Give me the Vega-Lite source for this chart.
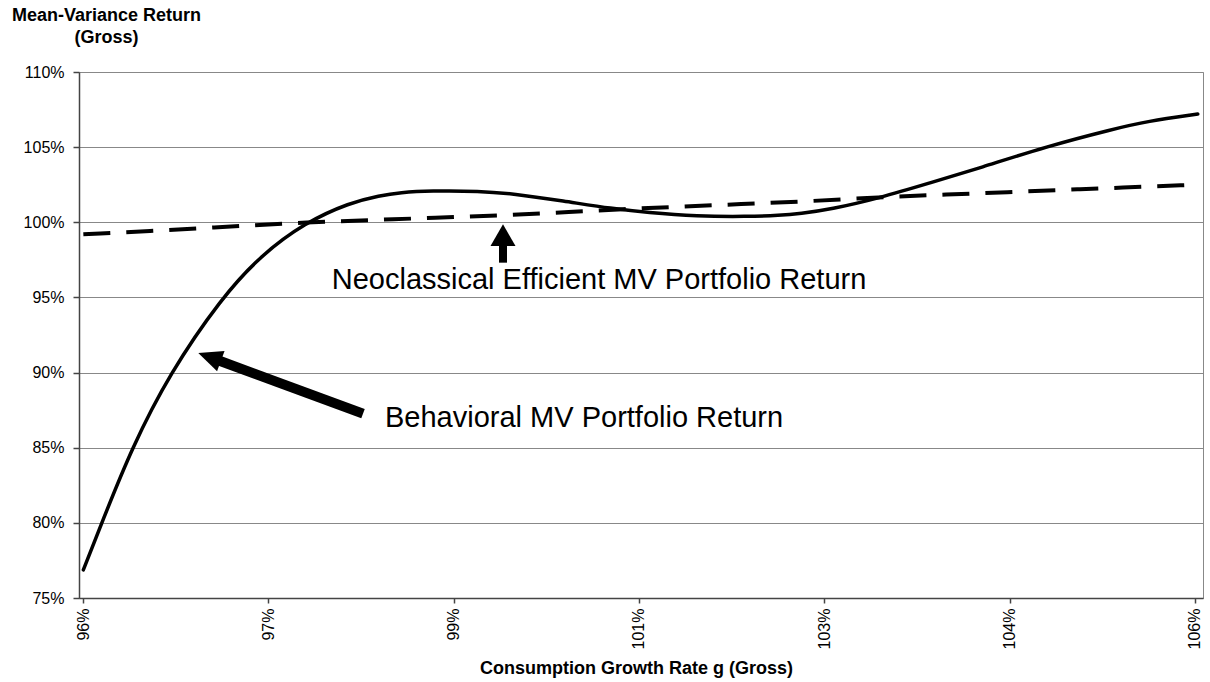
{
  "$schema": "https://vega.github.io/schema/vega-lite/v6.json",
  "width": 1124,
  "height": 526,
  "autosize": {"type": "none"},
  "padding": {"left": 79, "top": 72, "right": 7, "bottom": 84},
  "background": "white",
  "config": {
    "font": "Liberation Sans",
    "view": {"stroke": "#888888", "strokeWidth": 1},
    "axis": {
      "domainColor": "#444444",
      "domainWidth": 1.5,
      "tickColor": "#444444",
      "tickWidth": 1.5,
      "labelColor": "black",
      "titleColor": "black",
      "labelFont": "Liberation Sans",
      "titleFont": "Liberation Sans",
      "labelFontSize": 16,
      "titleFontSize": 18,
      "titleFontWeight": "bold"
    }
  },
  "layer": [
    {
      "data": {"values": [
        {"g": 0.96003, "r": 0.7687},
        {"g": 0.96168, "r": 0.7998},
        {"g": 0.96438, "r": 0.8498},
        {"g": 0.96782, "r": 0.8998},
        {"g": 0.97247, "r": 0.9498},
        {"g": 0.97592, "r": 0.9775},
        {"g": 0.97996, "r": 0.9998},
        {"g": 0.98401, "r": 1.0131},
        {"g": 0.98671, "r": 1.0178},
        {"g": 0.98851, "r": 1.0198},
        {"g": 0.99121, "r": 1.021},
        {"g": 0.9957, "r": 1.0208},
        {"g": 0.99867, "r": 1.019},
        {"g": 1.00317, "r": 1.0142},
        {"g": 1.00766, "r": 1.009},
        {"g": 1.01072, "r": 1.0065},
        {"g": 1.01522, "r": 1.004},
        {"g": 1.01971, "r": 1.0038},
        {"g": 1.02268, "r": 1.0046},
        {"g": 1.02448, "r": 1.0058},
        {"g": 1.02718, "r": 1.0085},
        {"g": 1.03167, "r": 1.0162},
        {"g": 1.03617, "r": 1.0262},
        {"g": 1.04067, "r": 1.0362},
        {"g": 1.04666, "r": 1.0505},
        {"g": 1.05263, "r": 1.062},
        {"g": 1.05568, "r": 1.0672},
        {"g": 1.06025, "r": 1.072}
      ]},
      "mark": {"type": "line", "color": "black", "strokeWidth": 3.5, "interpolate": "basis", "strokeCap": "round"},
      "encoding": {
        "x": {
          "field": "g", "type": "quantitative",
          "scale": {"domain": [0.95964, 1.06072], "nice": false, "zero": false},
          "axis": {
            "title": "Consumption Growth Rate g (Gross)",
            "values": [0.96, 0.976667, 0.993333, 1.01, 1.026667, 1.043333, 1.06],
            "labelExpr": "datum.value < 0.97 ? '96%' : datum.value < 0.985 ? '97%' : datum.value < 1.0 ? '99%' : datum.value < 1.02 ? '101%' : datum.value < 1.035 ? '103%' : datum.value < 1.05 ? '104%' : '106%'",
            "labelAngle": 270,
            "labelPadding": 5,
            "tickSize": 5,
            "grid": false,
            "titleX": 557,
            "titleY": 75,
            "titleBaseline": "alphabetic"
          }
        },
        "y": {
          "field": "r", "type": "quantitative",
          "scale": {"domain": [0.75, 1.1], "nice": false, "zero": false},
          "axis": {
            "title": ["Mean-Variance Return", "(Gross)"],
            "values": [0.75, 0.8, 0.85, 0.9, 0.95, 1.0, 1.05, 1.1],
            "format": ".0%",
            "grid": true,
            "gridColor": "#888888",
            "gridWidth": 1,
            "tickSize": 6,
            "labelPadding": 9,
            "titleAngle": 0,
            "titleAlign": "center",
            "titleBaseline": "top",
            "titleX": 27,
            "titleY": -66,
            "titleLineHeight": 22
          }
        }
      }
    },
    {
      "data": {"values": [
        {"g": 0.96003, "r": 0.992},
        {"g": 0.96603, "r": 0.9942},
        {"g": 0.98012, "r": 0.9998},
        {"g": 0.98788, "r": 1.002},
        {"g": 0.99777, "r": 1.0047},
        {"g": 1.00856, "r": 1.0087},
        {"g": 1.01665, "r": 1.0113},
        {"g": 1.02448, "r": 1.0138},
        {"g": 1.03257, "r": 1.0169},
        {"g": 1.04067, "r": 1.0193},
        {"g": 1.04966, "r": 1.022},
        {"g": 1.05982, "r": 1.0249}
      ]},
      "mark": {"type": "line", "color": "black", "strokeWidth": 4, "strokeDash": [27, 16], "interpolate": "monotone"},
      "encoding": {
        "x": {"field": "g", "type": "quantitative"},
        "y": {"field": "r", "type": "quantitative"}
      }
    },
    {
      "data": {"values": [
        {"g": 0.99777, "r": 0.97313, "g2": 0.99777, "r2": 0.98867}
      ]},
      "mark": {"type": "rule", "color": "black", "strokeWidth": 8, "strokeCap": "butt"},
      "encoding": {
        "x": {"field": "g", "type": "quantitative"},
        "y": {"field": "r", "type": "quantitative"},
        "x2": {"field": "g2"},
        "y2": {"field": "r2"}
      }
    },
    {
      "data": {"values": [
        {"g": 0.98518, "r": 0.87267, "g2": 0.9716, "r2": 0.90967}
      ]},
      "mark": {"type": "rule", "color": "black", "strokeWidth": 10, "strokeCap": "butt"},
      "encoding": {
        "x": {"field": "g", "type": "quantitative"},
        "y": {"field": "r", "type": "quantitative"},
        "x2": {"field": "g2"},
        "y2": {"field": "r2"}
      }
    },
    {
      "data": {"values": [
        {"g": 0.99777, "r": 0.99147}
      ]},
      "mark": {"type": "point", "shape": "triangle-up", "size": 625, "filled": true, "color": "black", "opacity": 1, "strokeWidth": 0},
      "encoding": {
        "x": {"field": "g", "type": "quantitative"},
        "y": {"field": "r", "type": "quantitative"}
      }
    },
    {
      "data": {"values": [
        {"g": 0.97138, "r": 0.91033}
      ]},
      "mark": {"type": "point", "shape": "M0,-1L0.9,1L-0.9,1Z", "size": 576, "angle": 290.2, "filled": true, "color": "black", "opacity": 1, "strokeWidth": 0},
      "encoding": {
        "x": {"field": "g", "type": "quantitative"},
        "y": {"field": "r", "type": "quantitative"}
      }
    },
    {
      "data": {"values": [
        {"g": 0.98237, "r": 0.9558, "label": "Neoclassical Efficient MV Portfolio Return"},
        {"g": 0.98716, "r": 0.86353, "label": "Behavioral MV Portfolio Return"}
      ]},
      "mark": {"type": "text", "align": "left", "baseline": "alphabetic", "fontSize": 29, "font": "Liberation Sans", "color": "black"},
      "encoding": {
        "x": {"field": "g", "type": "quantitative"},
        "y": {"field": "r", "type": "quantitative"},
        "text": {"field": "label"}
      }
    }
  ]
}
